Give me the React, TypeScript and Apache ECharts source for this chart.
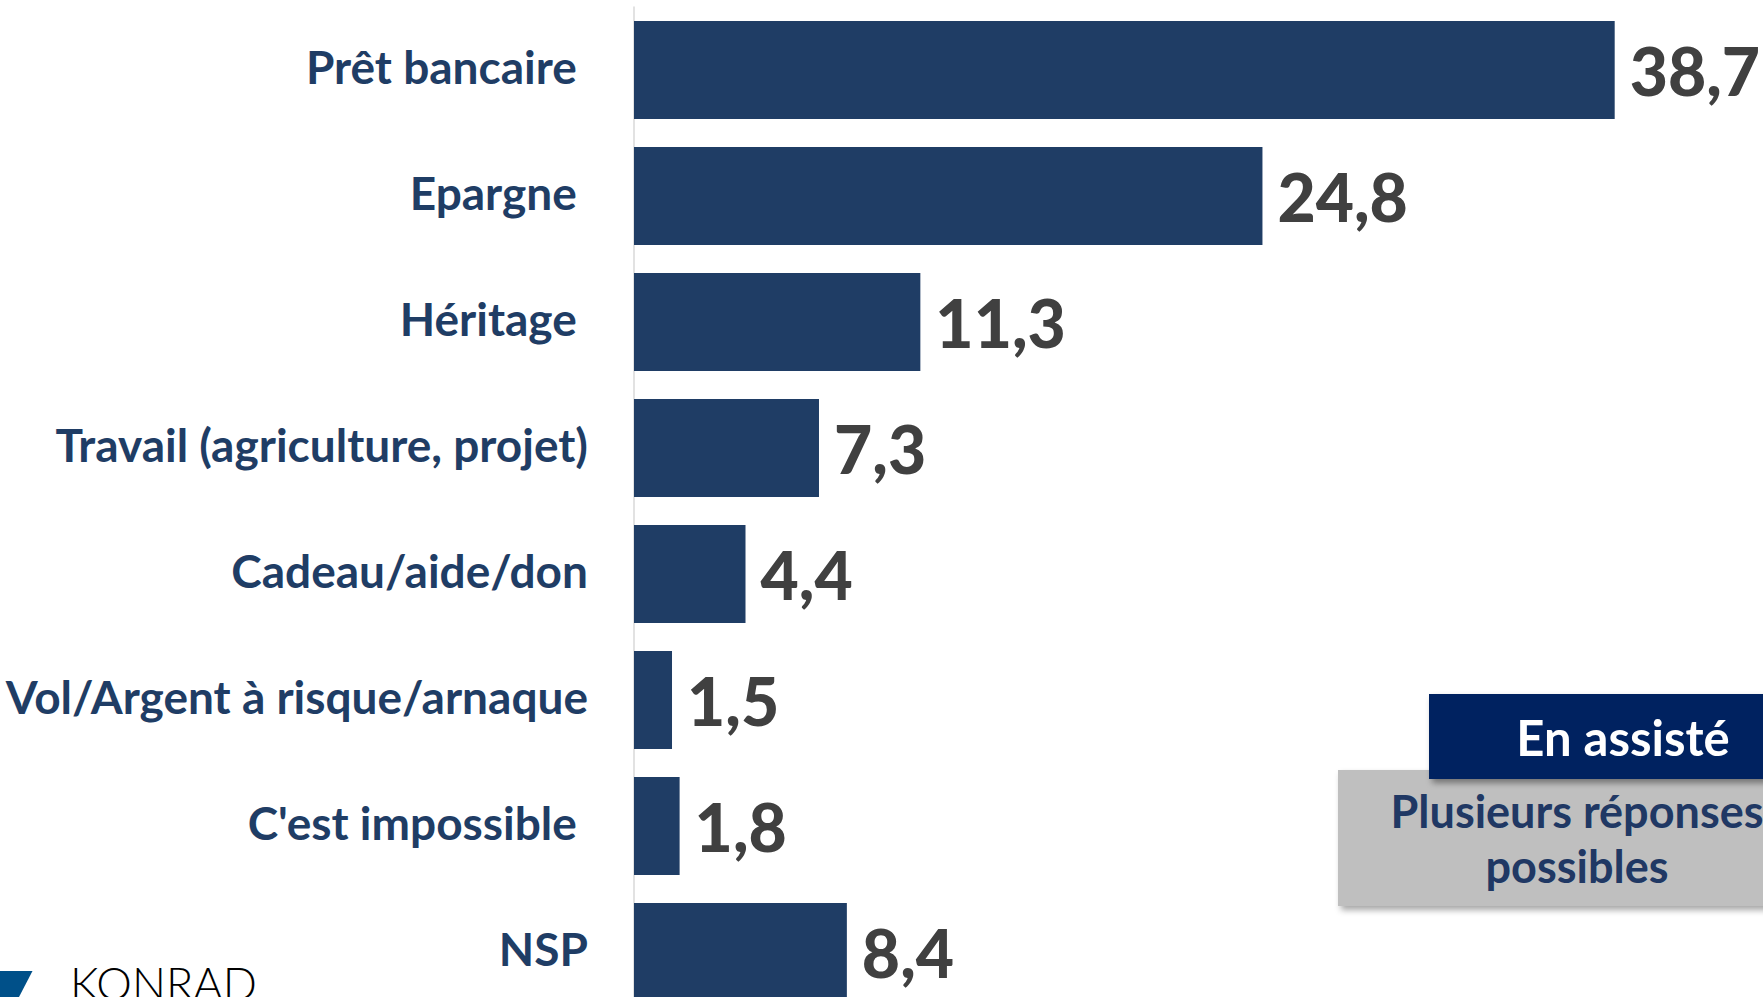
import React, { useEffect, useRef } from "react";
import * as echarts from "echarts";

const categories = [
  "Prêt bancaire ",
  "Epargne ",
  "Héritage ",
  "Travail (agriculture, projet)",
  "Cadeau/aide/don",
  "Vol/Argent à risque/arnaque",
  "C'est impossible ",
  "NSP",
];
const values = [38.7, 24.8, 11.3, 7.3, 4.4, 1.5, 1.8, 8.4];
const badgeTitle = "En assisté";
const badgeNote = ["Plusieurs réponses", "possibles"];
const logoText = "KONRAD";

const FONT = "Lato";
const NAVY = "#1F3D65";

export default function App() {
  const ref = useRef<HTMLDivElement>(null);
  useEffect(() => {
    document.body.style.margin = "0";
    const chart = echarts.init(ref.current!, null, { renderer: "svg" });
    chart.setOption({
      animation: false,
      backgroundColor: "#ffffff",
      grid: {
        left: 634,
        top: 7,
        width: 1115,
        height: 1008,
        containLabel: false,
        outerBoundsMode: "none",
      },
      xAxis: {
        type: "value",
        min: 0,
        max: 44,
        show: false,
      },
      yAxis: {
        type: "category",
        inverse: true,
        data: categories,
        axisLine: { show: true, lineStyle: { color: "#D9D9D9", width: 1.5 } },
        axisTick: { show: false },
        splitLine: { show: false },
        axisLabel: {
          margin: 46,
          color: NAVY,
          fontFamily: FONT,
          fontWeight: "bold",
          fontSize: 46,
          formatter: (v: string) => "{c|" + v.replace(/ $/, "\u00a0") + "}",
          rich: {
            c: {
              color: NAVY,
              fontFamily: FONT,
              fontWeight: "bold",
              fontSize: 46,
              padding: [0, 0, 8, 0],
            },
          },
        },
      },
      series: [
        {
          type: "bar",
          data: values,
          barCategoryGap: "22.4%",
          itemStyle: { color: NAVY },
          label: {
            show: true,
            position: "right",
            distance: 15,
            color: "#404040",
            fontFamily: FONT,
            fontWeight: 900,
            fontSize: 66,
            formatter: (p: any) => String(p.value).replace(".", ","),
          },
        },
      ],
      graphic: [
        {
          type: "rect",
          shape: { x: 1338, y: 770, width: 440, height: 136 },
          style: {
            fill: "#BFBFBF",
            shadowBlur: 6,
            shadowOffsetX: 3,
            shadowOffsetY: 4,
            shadowColor: "rgba(0,0,0,0.35)",
          },
          z: 10,
        },
        {
          type: "text",
          x: 1577,
          y: 838,
          style: {
            text: badgeNote.join("\n"),
            fill: "#203864",
            font: `bold 45px ${FONT}`,
            lineHeight: 55,
            align: "center",
            verticalAlign: "middle",
          },
          z: 11,
        },
        {
          type: "rect",
          shape: { x: 1429, y: 694, width: 350, height: 85 },
          style: {
            fill: "#002060",
            shadowBlur: 6,
            shadowOffsetX: 3,
            shadowOffsetY: 4,
            shadowColor: "rgba(0,0,0,0.4)",
          },
          z: 12,
        },
        {
          type: "text",
          x: 1623,
          y: 737,
          style: {
            text: badgeTitle,
            fill: "#ffffff",
            font: `bold 49px ${FONT}`,
            align: "center",
            verticalAlign: "middle",
          },
          z: 13,
        },
        {
          type: "polygon",
          shape: { points: [[0, 971], [32.5, 971], [19, 997], [0, 997]] },
          style: { fill: "#005089" },
          z: 10,
        },
        {
          type: "text",
          x: 70,
          y: 960,
          style: {
            text: logoText,
            fill: "#000000",
            font: `300 45px ${FONT}`,
            align: "left",
            verticalAlign: "top",
          },
          z: 10,
        },
      ],
    });
    return () => chart.dispose();
  }, []);
  return <div ref={ref} style={{ width: 1763, height: 997 }} />;
}
